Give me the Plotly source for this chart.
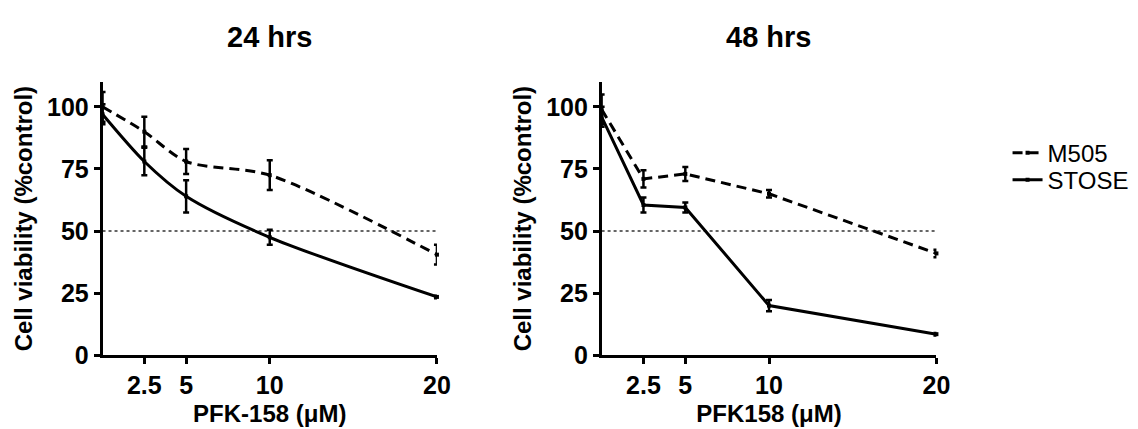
import plotly.graph_objects as go

# ---- data ----
doses = [0, 2.5, 5, 10, 20]
tick_vals = [2.5, 5, 10, 20]
tick_text = ["2.5", "5", "10", "20"]
y_ticks = [0, 25, 50, 75, 100]

m505_24 = [100, 90, 78, 72.5, 40.5]
m505_24_err = [6, 6, 5, 6, 4]
stose_24 = [97, 78, 64, 47.5, 23.5]
stose_24_err = [4, 5.5, 6.5, 3, 0.5]

m505_48 = [99, 71, 73, 65, 41]
m505_48_err = [6, 3.5, 2.8, 1.5, 1.5]
stose_48 = [96, 60.5, 59.5, 20, 8.5]
stose_48_err = [4, 3, 2, 2.3, 0.5]

panel_titles = ["24 hrs", "48 hrs"]
x_titles = ["PFK-158 (\u03bcM)", "PFK158 (\u03bcM)"]
y_title = "Cell viability (%control)"
series_names = ["M505", "STOSE"]
threshold = 50

FONT = "Liberation Sans, Arial, sans-serif"
W, H = 1138, 429

fig = go.Figure()

def add_series(x, y, err, name, dash, xa, ya, shape, showlegend, legend):
    fig.add_trace(go.Scatter(
        x=x, y=y, name=name, mode="lines+markers",
        line=dict(color="black", width=3, dash=dash, shape=shape, smoothing=0.8),
        marker=dict(symbol="square", size=4, color="black"),
        error_y=dict(type="data", array=err, visible=True, color="black",
                     thickness=2.5, width=3),
        xaxis=xa, yaxis=ya, showlegend=showlegend, cliponaxis=False, legend=legend,
    ))

add_series(doses, m505_24, m505_24_err, series_names[0], "10px,6px", "x", "y", "spline", True, "legend")
add_series(doses, stose_24, stose_24_err, series_names[1], "solid", "x", "y", "spline", True, "legend2")
add_series(doses, m505_48, m505_48_err, series_names[0], "10px,6px", "x2", "y2", "linear", False, "legend")
add_series(doses, stose_48, stose_48_err, series_names[1], "solid", "x2", "y2", "linear", False, "legend2")

# 50% reference lines
for xr, yr in (("x", "y"), ("x2", "y2")):
    fig.add_shape(type="line", xref=xr, yref=yr, x0=0, x1=20, y0=threshold, y1=threshold,
                  line=dict(color="#333", width=1.5, dash="dot"), layer="below")

xd1 = [95.7 / W, 434.3 / W]
xd2 = [601 / W, 940 / W]
yd = [1 - 359 / H, 1 - 76.5 / H]

TICKFONT = dict(family=FONT, size=25, color="black", weight="bold")
TITLEFONT = dict(family=FONT, size=24, color="black", weight="bold")

def xaxis(domain, anchor, title):
    return dict(domain=domain, anchor=anchor, range=[0, 20], tickmode="array",
                tickvals=tick_vals, ticktext=tick_text, ticks="outside", ticklen=6,
                tickwidth=2.5, tickcolor="black", showline=True, linewidth=2.5,
                linecolor="black", showgrid=False, zeroline=False,
                tickfont=TICKFONT,
                title=dict(text=title, standoff=8, font=TITLEFONT))

def yaxis(anchor):
    return dict(domain=yd, anchor=anchor, range=[0, 110], tickmode="array",
                tickvals=y_ticks, ticks="outside", ticklen=6, tickwidth=2.5,
                tickcolor="black", showline=True, linewidth=2.5, linecolor="black",
                showgrid=False, zeroline=False,
                tickfont=TICKFONT,
                title=dict(text=y_title, standoff=8, font=TITLEFONT))

LEGFONT = dict(family=FONT, size=24, color="black")

fig.update_layout(
    width=W, height=H,
    margin=dict(l=0, r=0, t=0, b=0),
    plot_bgcolor="white", paper_bgcolor="white",
    xaxis=xaxis(xd1, "y", x_titles[0]),
    yaxis=yaxis("x"),
    xaxis2=xaxis(xd2, "y2", x_titles[1]),
    yaxis2=yaxis("x2"),
    legend=dict(x=1012 / W, y=1 - 150 / H, xanchor="left", yanchor="middle",
                font=LEGFONT, bgcolor="rgba(0,0,0,0)"),
    legend2=dict(x=1012 / W, y=1 - 178 / H, xanchor="left", yanchor="middle",
                 font=LEGFONT, bgcolor="rgba(0,0,0,0)"),
    annotations=[
        dict(text=panel_titles[0], x=265 / W, y=1 - 30 / H, xref="paper", yref="paper",
             showarrow=False, xanchor="center", yanchor="middle",
             font=dict(family=FONT, size=29, color="black", weight="bold")),
        dict(text=panel_titles[1], x=770 / W, y=1 - 30 / H, xref="paper", yref="paper",
             showarrow=False, xanchor="center", yanchor="middle",
             font=dict(family=FONT, size=29, color="black", weight="bold")),
    ],
)

fig.write_html("out.html")
